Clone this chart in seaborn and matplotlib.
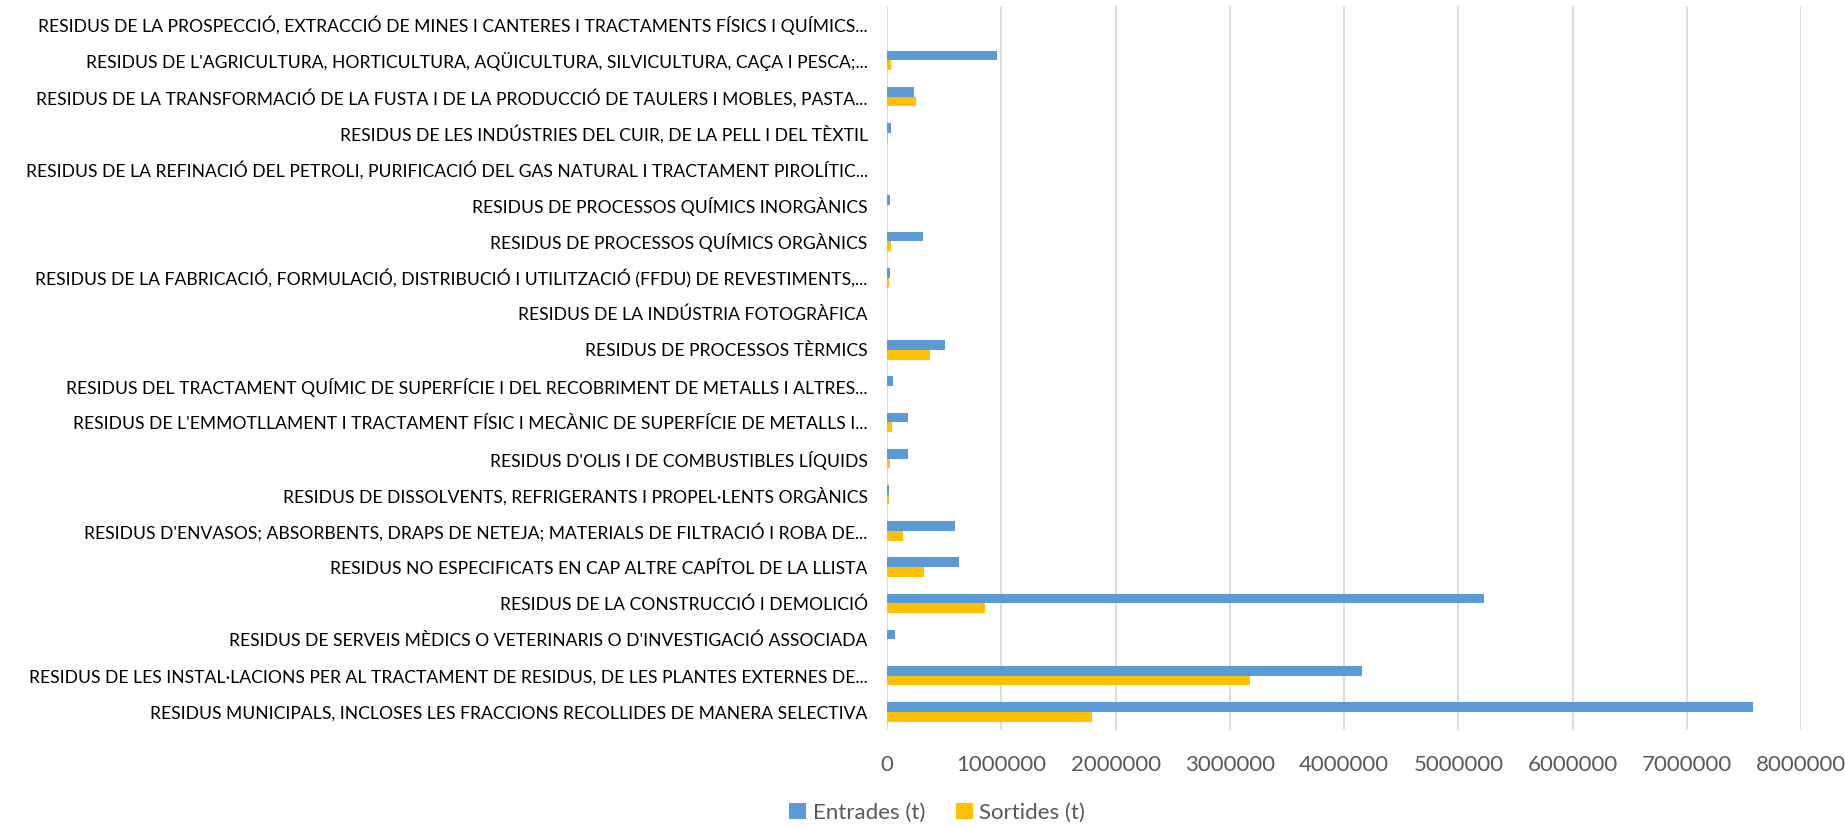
import pandas as pd
import matplotlib
matplotlib.use('Agg')
import matplotlib.pyplot as plt
import matplotlib.ticker as mticker
import seaborn as sns

# categories, top to bottom as in the chart
categories = [
    "RESIDUS DE LA PROSPECCIÓ, EXTRACCIÓ DE MINES I CANTERES I TRACTAMENTS FÍSICS I QUÍMICS...",
    "RESIDUS DE L'AGRICULTURA, HORTICULTURA, AQÜICULTURA, SILVICULTURA, CAÇA I PESCA;...",
    "RESIDUS DE LA TRANSFORMACIÓ DE LA FUSTA I DE LA PRODUCCIÓ DE TAULERS I MOBLES, PASTA...",
    "RESIDUS DE LES INDÚSTRIES DEL CUIR, DE LA PELL I DEL TÈXTIL",
    "RESIDUS DE LA REFINACIÓ DEL PETROLI, PURIFICACIÓ DEL GAS NATURAL I TRACTAMENT PIROLÍTIC...",
    "RESIDUS DE PROCESSOS QUÍMICS INORGÀNICS",
    "RESIDUS DE PROCESSOS QUÍMICS ORGÀNICS",
    "RESIDUS DE LA FABRICACIÓ, FORMULACIÓ, DISTRIBUCIÓ I UTILITZACIÓ (FFDU) DE REVESTIMENTS,...",
    "RESIDUS DE LA INDÚSTRIA FOTOGRÀFICA",
    "RESIDUS DE PROCESSOS TÈRMICS",
    "RESIDUS DEL TRACTAMENT QUÍMIC DE SUPERFÍCIE I DEL RECOBRIMENT DE METALLS I ALTRES...",
    "RESIDUS DE L'EMMOTLLAMENT I TRACTAMENT FÍSIC I MECÀNIC DE SUPERFÍCIE DE METALLS I...",
    "RESIDUS D'OLIS I DE COMBUSTIBLES LÍQUIDS",
    "RESIDUS DE DISSOLVENTS, REFRIGERANTS I PROPEL·LENTS ORGÀNICS",
    "RESIDUS D'ENVASOS; ABSORBENTS, DRAPS DE NETEJA; MATERIALS DE FILTRACIÓ I ROBA DE...",
    "RESIDUS NO ESPECIFICATS EN CAP ALTRE CAPÍTOL DE LA LLISTA",
    "RESIDUS DE LA CONSTRUCCIÓ I DEMOLICIÓ",
    "RESIDUS DE SERVEIS MÈDICS O VETERINARIS O D'INVESTIGACIÓ ASSOCIADA",
    "RESIDUS DE LES INSTAL·LACIONS PER AL TRACTAMENT DE RESIDUS, DE LES PLANTES EXTERNES DE...",
    "RESIDUS MUNICIPALS, INCLOSES LES FRACCIONS RECOLLIDES DE MANERA SELECTIVA",
]

entrades = [2000, 965000, 234000, 32000, 3000, 26000, 316000, 26000, 1000, 503000,
            53000, 184000, 187000, 15000, 596000, 628000, 5220000, 67000, 4160000, 7580000]
sortides = [500, 38000, 254000, 10000, 1000, 2000, 38000, 15000, 500, 374000,
            3000, 41000, 23000, 14000, 143000, 319000, 861000, 2000, 3177000, 1789000]

series = ['Entrades (t)', 'Sortides (t)']
colors = ['#5B9BD5', '#FFC000']

df = pd.DataFrame({
    'categoria': categories * 2,
    'valor': entrades + sortides,
    'serie': [series[0]] * len(categories) + [series[1]] * len(categories),
})

sns.set_style('white')
plt.rcParams['font.family'] = ['Lato', 'DejaVu Sans']

fig = plt.figure(figsize=(18.45, 8.27), dpi=100)
ax = fig.add_axes([0.4808, 0.1173, 0.4955, 0.8754])

sns.barplot(data=df, y='categoria', x='valor', hue='serie', order=categories,
            hue_order=series, palette=colors, saturation=1, orient='h', width=0.54,
            linewidth=0, errorbar=None, ax=ax)

ax.set_xlim(0, 8000000)
ax.xaxis.set_major_locator(mticker.MultipleLocator(1000000))
ax.xaxis.set_major_formatter(mticker.StrMethodFormatter('{x:.0f}'))
ax.grid(axis='x', color='#D9D9D9', linewidth=1.3, zorder=0)
ax.set_axisbelow(True)
for s in ax.spines.values():
    s.set_visible(False)
ax.set_xlabel('')
ax.set_ylabel('')
ax.tick_params(axis='x', length=0, labelsize=16, colors='#595959', pad=18)
ax.tick_params(axis='y', length=0, labelsize=12.6, colors='#000000', pad=14)

handles, labels = ax.get_legend_handles_labels()
ax.get_legend().remove()
fig.legend(handles, labels, loc='center', bbox_to_anchor=(0.508, 0.017), ncol=2,
           frameon=False, fontsize=16, labelcolor='#595959', handlelength=0.75,
           handleheight=0.75, handletextpad=0.3, columnspacing=1.4)

fig.savefig('out.png', dpi=100)
